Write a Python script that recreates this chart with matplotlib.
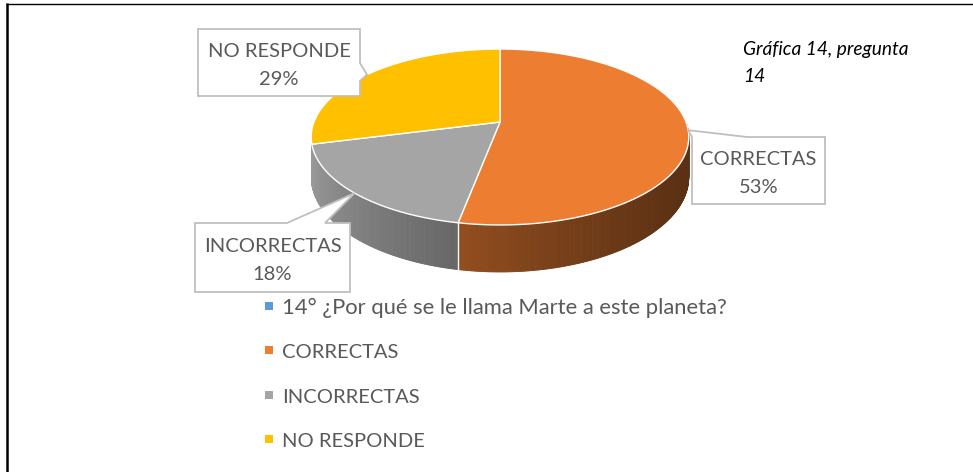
import numpy as np
import matplotlib
matplotlib.use("Agg")
import matplotlib.pyplot as plt
from matplotlib.patches import Polygon, Rectangle
from matplotlib.collections import PolyCollection
from matplotlib.colors import to_rgb

# ---- data ----
categories = ["CORRECTAS", "INCORRECTAS", "NO RESPONDE"]
percentages = [53, 18, 29]
series_name = "14° ¿Por qué se le llama Marte a este planeta?"
slice_colors = ["#ED7D31", "#A5A5A5", "#FFC000"]
series_color = "#5B9BD5"
caption_lines = ["Gráfica 14, pregunta", "14"]

FONT = ["Lato", "DejaVu Sans"]
TEXT_COLOR = "#595959"

W, H = 973, 472
fig = plt.figure(figsize=(W / 100, H / 100), dpi=100)
ax = fig.add_axes([0, 0, 1, 1])
ax.set_xlim(0, W)
ax.set_ylim(H, 0)
ax.axis("off")

# frame lines (top and left)
ax.plot([6, W], [4, 4], color="black", lw=1.0, solid_capstyle="butt")
ax.plot([7, 7], [3, H], color="black", lw=1.8, solid_capstyle="butt")

# ---- 3D pie geometry in pixel space ----
CX, CY = 500, 122      # projected pie centre
RX, RY = 186, 85.4     # radii before perspective
K = 0.1705             # perspective strength
DEPTH = 47             # side thickness at the front


def project(theta_deg, r=1.0):
    t = np.radians(theta_deg)
    u = r * np.sin(t)
    v = r * np.cos(t)
    w = 1 + K * v
    return CX + RX * u / w, CY - RY * v / w


def depth_at(theta_deg):
    v = np.cos(np.radians(theta_deg))
    return DEPTH * (1 - K) / (1 + K * v)


def shade(x):
    t = np.clip((x - 311) / 378.0, 0, 1)
    return 0.95 - 0.57 * t ** 0.58


total = sum(percentages)
starts = np.cumsum([0] + percentages[:-1]) / total * 360.0
spans = np.array(percentages) / total * 360.0

# side walls of the front-facing slices, drawn back to front
strips, strip_cols, strip_v = [], [], []
for s, sp, col in zip(starts, spans, slice_colors):
    mid_v = np.cos(np.radians(s + sp / 2))
    if mid_v > 0:
        continue  # slice sits at the back
    base = np.array(to_rgb(col))
    angs = np.linspace(s, s + sp, max(int(sp * 2), 2) + 1)
    for a0, a1 in zip(angs[:-1], angs[1:]):
        am = 0.5 * (a0 + a1)
        vm = np.cos(np.radians(am))
        if vm > 0:
            continue
        x0, y0 = project(a0)
        x1, y1 = project(a1)
        quad = [(x0, y0), (x1, y1), (x1, y1 + depth_at(a1)), (x0, y0 + depth_at(a0))]
        xm = 0.5 * (x0 + x1)
        strips.append(quad)
        strip_cols.append(tuple(np.clip(base * shade(xm), 0, 1)))
        strip_v.append(vm)
order = np.argsort(strip_v)[::-1]
pc = PolyCollection([strips[i] for i in order],
                    facecolors=[strip_cols[i] for i in order],
                    edgecolors=[strip_cols[i] for i in order],
                    linewidths=0.6, zorder=1)
ax.add_collection(pc)

# white seam on the visible side between the front slices
for s in starts:
    if np.cos(np.radians(s)) < -0.5:
        x, y = project(s)
        ax.plot([x, x], [y, y + depth_at(s)], color="white", lw=1.0, zorder=2)

# top surface
for s, sp, col in zip(starts, spans, slice_colors):
    angs = np.linspace(s, s + sp, int(sp * 2) + 2)
    pts = [(CX, CY)] + [project(a) for a in angs]
    ax.add_patch(Polygon(pts, closed=True, facecolor=col, edgecolor="white",
                         lw=1.0, joinstyle="round", zorder=3))

# ---- data label callouts ----
BOX_EDGE = "#BFBFBF"
mids = starts + spans / 2
tips = {c: project(m) for c, m in zip(categories, mids)}


def callout(verts, lines, cx, baselines):
    ax.add_patch(Polygon(verts, closed=True, facecolor="white", edgecolor=BOX_EDGE,
                         lw=1.3, joinstyle="miter", zorder=5))
    for txt, yb in zip(lines, baselines):
        ax.text(cx, yb, txt, ha="center", va="baseline", fontsize=14.5,
                family=FONT, color=TEXT_COLOR, zorder=6)


labels = {c: [c, f"{p}%"] for c, p in zip(categories, percentages)}

# NO RESPONDE (pointer on right edge)
tx, ty = tips["NO RESPONDE"]
callout([(198, 29), (360, 29), (360, 63), (tx, ty), (360, 81), (360, 96), (198, 96)],
        labels["NO RESPONDE"], 279, [57, 85])

# CORRECTAS (pointer on top edge)
tx, ty = tips["CORRECTAS"]
callout([(692, 137), (tx, ty), (747, 137), (825, 137), (825, 204), (692, 204)],
        labels["CORRECTAS"], 758.5, [165, 193])

# INCORRECTAS (pointer on top edge)
tx, ty = tips["INCORRECTAS"]
callout([(195, 223), (287, 223), (tx, ty), (325, 223), (350, 223), (350, 292), (195, 292)],
        labels["INCORRECTAS"], 272.5, [252, 280])

# ---- legend ----
legend_labels = [series_name] + categories
legend_colors = [series_color] + slice_colors
legend_sizes = [15.8, 14.5, 14.5, 14.5]
for i, (lab, col, fs) in enumerate(zip(legend_labels, legend_colors, legend_sizes)):
    yb = 314 + i * 44.3
    ax.add_patch(Rectangle((265, yb - 12), 8, 8, facecolor=col, edgecolor="none", zorder=4))
    ax.text(282, yb, lab, ha="left", va="baseline", fontsize=fs,
            family=FONT, color=TEXT_COLOR, zorder=4)

# ---- caption ----
for txt, yb in zip(caption_lines, [55, 82]):
    ax.text(743, yb, txt, ha="left", va="baseline", fontsize=13.8,
            family=FONT, style="italic", color="black", zorder=4)

fig.savefig("out.png", dpi=100)
